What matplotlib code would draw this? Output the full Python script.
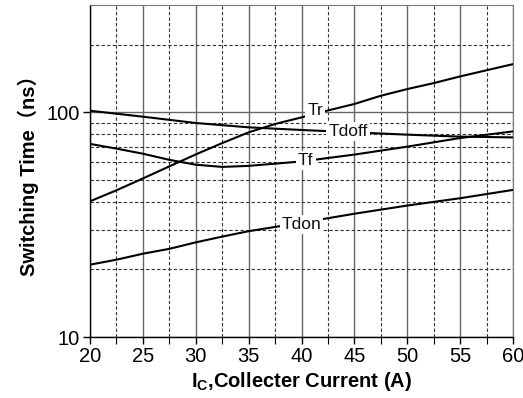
import numpy as np
import matplotlib
matplotlib.use("Agg")
import matplotlib.pyplot as plt
from matplotlib.ticker import FixedLocator, NullFormatter, FixedFormatter

plt.rcParams['font.family'] = ['Liberation Sans', 'Noto Sans CJK SC', 'DejaVu Sans']

# data
tr_x = [20, 22.5, 25, 27.5, 30, 32.5, 35, 37.5, 40, 42.5, 45, 47.5, 50, 52.5, 55, 57.5, 60]
tr_y = [40.2, 45, 50.8, 57.5, 65, 73, 81.5, 88.8, 95, 102, 109, 118.6, 127, 135, 144.6, 154, 164]

tdoff_x = [20, 25, 30, 35, 40, 45, 50, 55, 60]
tdoff_y = [101.7, 95.7, 89.7, 85.8, 83.5, 81.5, 79.6, 78, 77.4]

tf_x = [20, 22.5, 25, 27.5, 30, 32.5, 35, 40, 45, 50, 55, 60]
tf_y = [72.4, 69, 65.5, 61.5, 58.5, 57.2, 57.8, 60.5, 64.9, 70.4, 76.9, 82.3]

tdon_x = [20, 22.5, 25, 27.5, 30, 32.5, 35, 40, 45, 50, 55, 60]
tdon_y = [21, 22.1, 23.5, 24.7, 26.4, 28, 29.6, 32.3, 35.4, 38.5, 41.5, 45.2]

labels = ["Tr", "Tdoff", "Tf", "Tdon"]
label_pos = [(41.3, 101.8), (44.4, 82.5), (40.4, 61), (40.0, 31.6)]

x_major = [20, 25, 30, 35, 40, 45, 50, 55, 60]
x_minor = [22.5, 27.5, 32.5, 37.5, 42.5, 47.5, 52.5, 57.5]
y_major = [10, 100]
y_minor = [20, 30, 40, 50, 60, 70, 80, 90, 200]

fig = plt.figure(figsize=(5.23, 3.98), dpi=100)
ax = fig.add_axes([0.172, 0.153, 0.809, 0.834])

ax.set_yscale('log')
ax.set_xlim(20, 60)
ax.set_ylim(10, 300)

ax.xaxis.set_major_locator(FixedLocator(x_major))
ax.xaxis.set_minor_locator(FixedLocator(x_minor))
ax.yaxis.set_major_locator(FixedLocator(y_major))
ax.yaxis.set_major_formatter(FixedFormatter(['10', '100']))
ax.yaxis.set_minor_locator(FixedLocator(y_minor))
ax.yaxis.set_minor_formatter(NullFormatter())

ax.grid(True, which='major', color='#666666', linestyle='-', linewidth=1.0)
ax.grid(True, which='minor', color='#333333', linestyle=(0, (3, 2)), linewidth=0.8)
ax.set_axisbelow(True)

ax.tick_params(axis='both', which='major', direction='out', length=5, width=1,
               labelsize=14.5, pad=2)
ax.tick_params(axis='x', which='minor', direction='out', length=5, width=0.8)
ax.tick_params(axis='y', which='minor', length=0)

for s in ['top', 'right']:
    ax.spines[s].set_color('#777777')
for s in ['left', 'bottom']:
    ax.spines[s].set_color('black')
    ax.spines[s].set_linewidth(1.0)

for xs, ys in [(tr_x, tr_y), (tdoff_x, tdoff_y), (tf_x, tf_y), (tdon_x, tdon_y)]:
    ax.plot(xs, ys, color='black', linewidth=1.5, zorder=3)

for lab, (lx, ly) in zip(labels, label_pos):
    ax.text(lx, ly, lab, fontsize=12.5, ha='center', va='center', color='#111111',
            zorder=4, bbox=dict(facecolor='white', edgecolor='none', pad=1.5))

ax.set_xlabel(r'I$_{\mathregular{C}}$,Collecter Current (A)', fontsize=14.5,
              fontweight='bold', labelpad=3)
ax.set_ylabel('Switching Time（ns）', fontsize=14.5, fontweight='bold', labelpad=6)

fig.savefig('out.png', dpi=100)
